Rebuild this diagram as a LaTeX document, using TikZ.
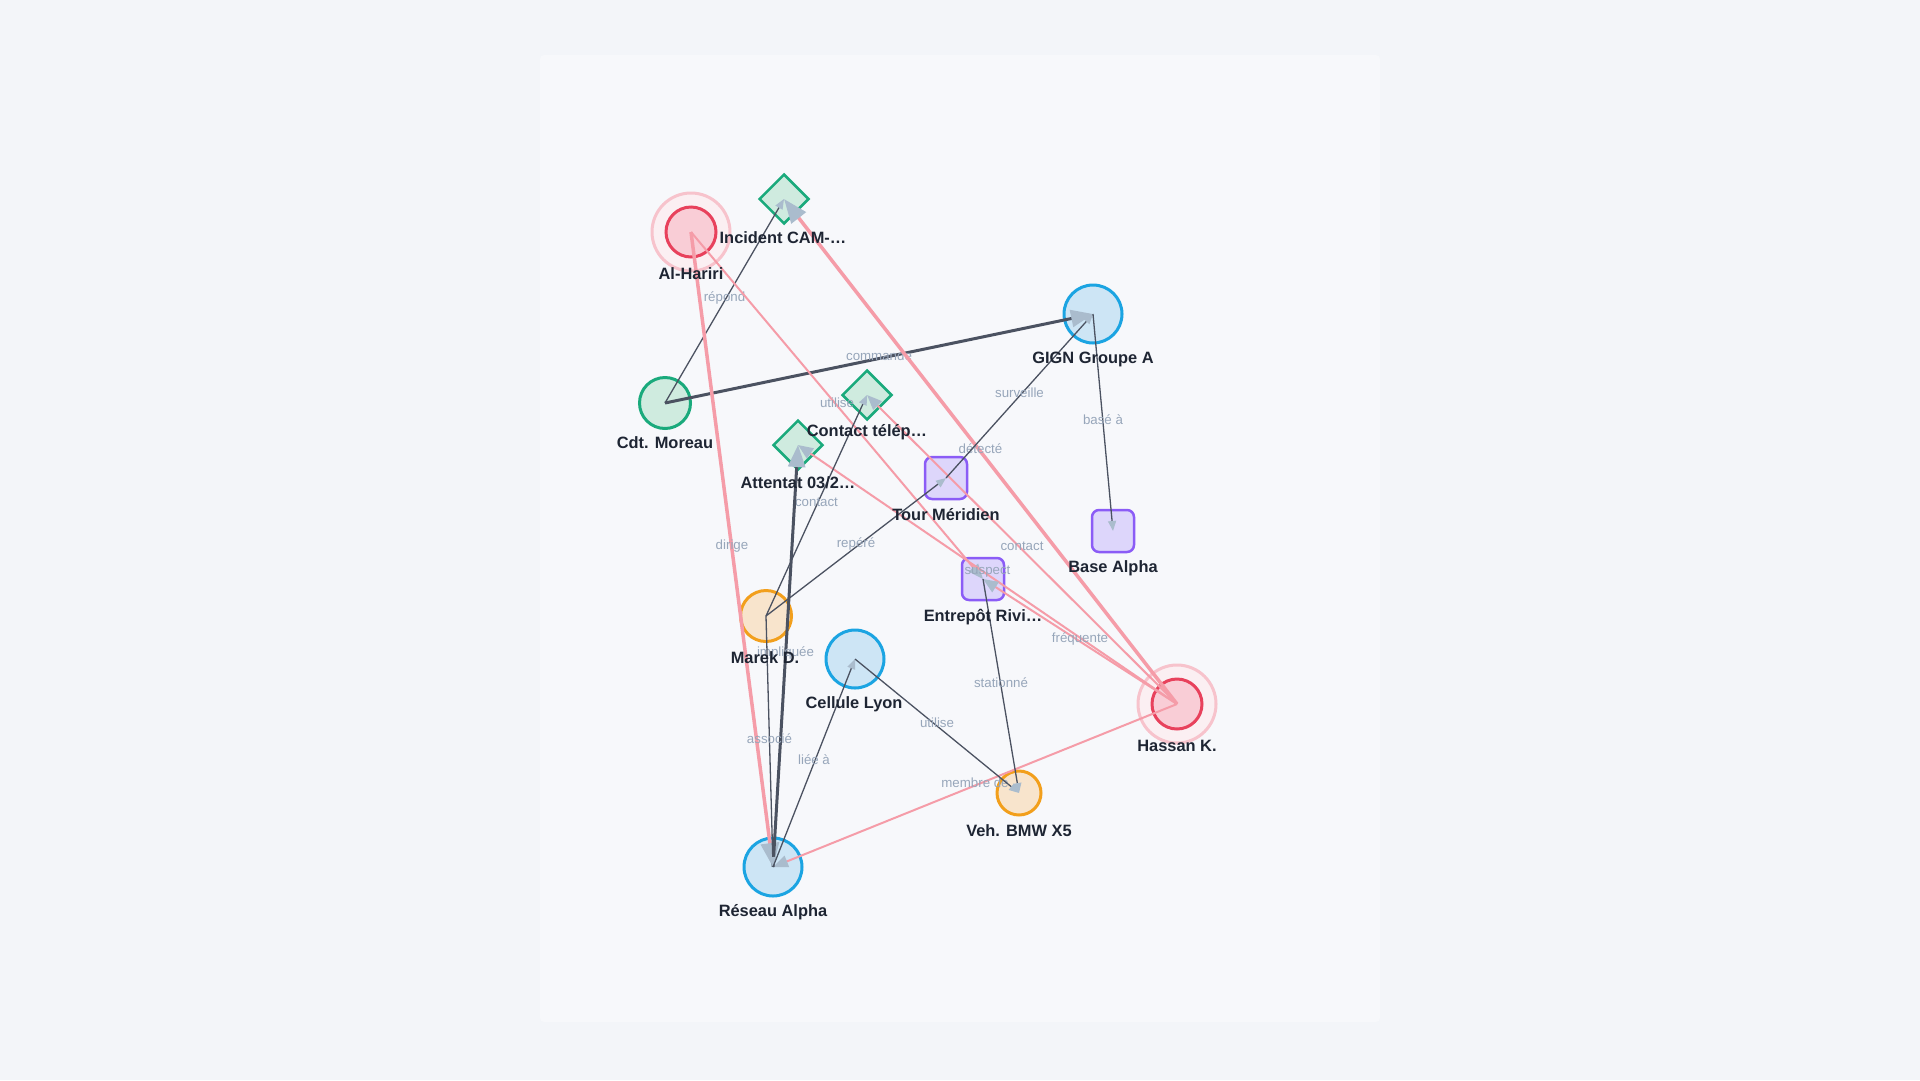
\documentclass[tikz,border=0pt]{standalone}
\usepackage{fontspec}
\setmainfont{Liberation Sans}
\usetikzlibrary{shapes.geometric,arrows.meta}
\definecolor{bgOuter}{HTML}{F3F5F9}
\definecolor{panelc}{HTML}{F7F8FB}
\definecolor{roseS}{HTML}{E8415C}
\definecolor{roseF}{HTML}{F9CDD6}
\definecolor{haloS}{HTML}{F7C3CC}
\definecolor{haloF}{HTML}{FBEFF2}
\definecolor{greenS}{HTML}{1AAA7C}
\definecolor{greenF}{HTML}{CFEBDF}
\definecolor{blueS}{HTML}{1BA4E2}
\definecolor{blueF}{HTML}{CDE5F5}
\definecolor{amberS}{HTML}{F29F1C}
\definecolor{amberF}{HTML}{F8E4CC}
\definecolor{violetS}{HTML}{8B5CF6}
\definecolor{violetF}{HTML}{DDD6FB}
\definecolor{darkE}{HTML}{4B5261}
\definecolor{pinkE}{HTML}{F59CA8}
\definecolor{arrowc}{HTML}{AABCCD}
\definecolor{elblc}{HTML}{97A6BA}
\definecolor{nlblc}{HTML}{1E2533}
\begin{document}
\begin{tikzpicture}[x=1pt,y=-1pt,
  halo/.style={circle,draw=haloS,fill=haloF,line width=3pt,minimum size=78pt,inner sep=0pt},
  redn/.style={circle,draw=roseS,fill=roseF,line width=3pt,minimum size=50pt,inner sep=0pt},
  greenn/.style={circle,draw=greenS,fill=greenF,line width=3pt,minimum size=51pt,inner sep=0pt},
  bluen/.style={circle,draw=blueS,fill=blueF,line width=3pt,minimum size=58pt,inner sep=0pt},
  ambern/.style={circle,draw=amberS,fill=amberF,line width=3pt,minimum size=51pt,inner sep=0pt},
  sqn/.style={rectangle,rounded corners=7pt,draw=violetS,fill=violetF,line width=2.5pt,minimum size=42pt,inner sep=0pt},
  dian/.style={diamond,aspect=1,draw=greenS,fill=greenF,line width=2.5pt,minimum width=50pt,minimum height=50pt,inner sep=0pt},
  nlbl/.style={font=\bfseries\fontsize{16.4}{18}\selectfont,text=nlblc,inner sep=0pt},
  elbl/.style={font=\fontsize{13.3}{15}\selectfont,text=elblc,inner sep=0pt,yshift=3pt},
  thinE/.style={draw=darkE,line width=1.3pt,-{Triangle[length=10pt,width=8pt,color=arrowc]}},
  thickE/.style={draw=darkE,line width=3pt,-{Triangle[length=22pt,width=17pt,color=arrowc]}},
  pinkE/.style={draw=pinkE,line width=2pt,-{Triangle[length=15pt,width=12pt,color=arrowc]}},
  pinkT/.style={draw=pinkE,line width=3.5pt,-{Triangle[length=24pt,width=18pt,color=arrowc]}}
]
\fill[bgOuter] (0,0) rectangle (1920,1080);
\useasboundingbox (0,0) rectangle (1920,1080);
\fill[panelc,rounded corners=4pt] (540,55) rectangle (1380,1022);

% nodes
\node[halo] (harH) at (691,232) {};
\node[redn] (hariri) at (691,232) {};
\node[dian] (incident) at (784,199) {};
\node[greenn] (moreau) at (665,403) {};
\node[bluen] (gign) at (1093,314) {};
\node[sqn] (base) at (1113,531) {};
\node[sqn] (tour) at (946,478) {};
\node[sqn] (entrepot) at (983,579) {};
\node[dian] (contact) at (867,395) {};
\node[dian] (attentat) at (798,445) {};
\node[ambern] (marek) at (766,616) {};
\node[bluen] (cellule) at (855,659) {};
\node[bluen] (reseau) at (773,867) {};
\node[ambern,minimum size=44pt] (bmw) at (1019,793) {};
\node[halo] (hasH) at (1177,704) {};
\node[redn] (hassan) at (1177,704) {};

% edges
\draw[thinE] (moreau.center) -- node[elbl]{répond} (incident.center);
\draw[thickE] (moreau.center) -- node[elbl]{commande} (gign.center);
\draw[pinkT] (hariri.center) -- node[elbl]{dirige} (reseau.center);
\draw[pinkE] (hariri.center) -- node[elbl]{utilise} (entrepot.center);
\draw[pinkT] (hassan.center) -- node[elbl]{détecté} (incident.center);
\draw[pinkE] (hassan.center) -- node[elbl]{contact} (contact.center);
\draw[pinkE] (hassan.center) -- node[elbl]{suspect} (attentat.center);
\draw[pinkE] (hassan.center) -- node[elbl]{fréquente} (entrepot.center);
\draw[pinkE] (hassan.center) -- node[elbl]{membre de} (reseau.center);
\draw[thinE] (marek.center) -- node[elbl]{contact} (contact.center);
\draw[thinE] (marek.center) -- node[elbl]{repéré} (tour.center);
\draw[thinE] (tour.center) -- node[elbl]{surveille} (gign.center);
\draw[thinE] (gign.center) -- node[elbl]{basé à} (base.center);
\draw[thickE] (reseau.center) -- node[elbl]{impliquée} (attentat.center);
\draw[thinE] (marek.center) -- node[elbl]{associé} (reseau.center);
\draw[thinE] (reseau.center) -- node[elbl]{liée à} (cellule.center);
\draw[thinE] (cellule.center) -- node[elbl]{utilise} (bmw.center);
\draw[thinE] (entrepot.center) -- node[elbl]{stationné} (bmw.center);

% node labels
\node[nlbl] (haririT) at (691,274) {Al-Hariri};
\node[nlbl] (incidentT) at (783,238) {Incident CAM-…};
\node[nlbl] (moreauT) at (665,443) {Cdt. Moreau};
\node[nlbl] (gignT) at (1093,359) {GIGN Groupe A};
\node[nlbl] (baseT) at (1113,568) {Base Alpha};
\node[nlbl] (tourT) at (946,515) {Tour Méridien};
\node[nlbl] (entrepotT) at (983,617) {Entrepôt Rivi…};
\node[nlbl] (contactT) at (867,432) {Contact télép…};
\node[nlbl] (attentatT) at (798,483) {Attentat 03/2…};
\node[nlbl] (marekT) at (765,658) {Marek D.};
\node[nlbl] (celluleT) at (854,704) {Cellule Lyon};
\node[nlbl] (reseauT) at (773,912) {Réseau Alpha};
\node[nlbl] (bmwT) at (1019,831) {Veh. BMW X5};
\node[nlbl] (hassanT) at (1177,746) {Hassan K.};
\end{tikzpicture}
\end{document}
